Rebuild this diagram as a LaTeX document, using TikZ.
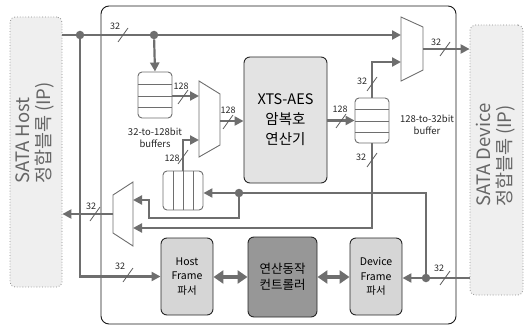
\documentclass[tikz,border=0pt]{standalone}
\usepackage{fontspec}
\setmainfont{Noto Sans CJK KR}
\usetikzlibrary{arrows.meta,calc}
\definecolor{ln}{HTML}{6E6E6E}
\definecolor{sidefill}{HTML}{EFEFEF}
\definecolor{xtsfill}{HTML}{E3E3E3}
\definecolor{frfill}{HTML}{D6D6D6}
\definecolor{ctfill}{HTML}{979797}
\newcommand\bslash[1]{\draw[slashmark] ($(#1)+(-5,7)$) -- ($(#1)+(5,-7)$);}
\begin{document}
\begin{tikzpicture}[x=1pt,y=-1pt,
  bus/.style={draw=ln,line width=2.2pt},
  arr/.style={bus,-{Triangle[length=9pt,width=9pt]}},
  darr/.style={draw=ln,line width=3.6pt,{Triangle[length=10pt,width=13pt]}-{Triangle[length=10pt,width=13pt]}},
  dotn/.style={circle,fill=ln,inner sep=0,minimum size=8.5pt},
  slashmark/.style={draw=ln!85!black,line width=0.8pt},
  lbl/.style={font=\fontsize{9}{10}\selectfont,text=black!85,inner sep=0},
  blk/.style={draw=black!85,line width=0.9pt,rounded corners=6pt,inner sep=0,align=center},
  side/.style={draw=black!45,dotted,line width=0.8pt,fill=sidefill,rounded corners=5pt,inner sep=0},
  sidetxt/.style={rotate=90,align=left,text=black!60,inner sep=0,font=\fontsize{18.5}{21}\selectfont},
  bufbox/.style={draw=ln,line width=0.9pt,fill=white,rounded corners=4pt,inner sep=0},
  stripe/.style={draw=ln,line width=0.8pt},
  muxs/.style={draw=ln,line width=0.9pt,fill=white}]
\useasboundingbox (0,0) rectangle (526,326);
% main frame
\draw[black!90,line width=0.9pt,rounded corners=8pt] (101,6) rectangle (456,324);
% side blocks
\node[side,minimum width=52,minimum height=270] (L) at (36,152) {};
\node[sidetxt] (Lt) at (35,133) {SATA Host\\정합블록 (IP)};
\node[side,minimum width=53,minimum height=270] (R) at (496.5,160) {};
\node[sidetxt] (Rt) at (496,155) {SATA Device\\정합블록 (IP)};
% blocks
\node[blk,fill=xtsfill,minimum width=83,minimum height=126,font=\fontsize{14.5}{20}\selectfont] (xts) at (285.5,120) {XTS-AES\\암복호\\연산기};
\node[blk,fill=frfill,minimum width=52,minimum height=77,font=\fontsize{10.5}{14.5}\selectfont] (hf) at (187,276.5) {Host\\Frame\\파서};
\node[blk,fill=ctfill,minimum width=69,minimum height=80,font=\fontsize{12.5}{16}\selectfont] (ctrl) at (282.5,277) {연산동작\\컨트롤러};
\node[blk,fill=frfill,minimum width=52,minimum height=77,font=\fontsize{10.5}{14.5}\selectfont] (df) at (376,276.5) {Device\\Frame\\파서};
% buffers
\node[bufbox,minimum width=34,minimum height=46] (buf1) at (155,95) {};
\draw[stripe] (138,84) -- (172,84) (138,96) -- (172,96) (138,107) -- (172,107);
\node[bufbox,minimum width=40,minimum height=39] (buf2) at (183,190.5) {};
\draw[stripe] (173,171) -- (173,210) (183,171) -- (183,210) (193,171) -- (193,210);
\node[bufbox,minimum width=34,minimum height=45] (buf3) at (372,120.5) {};
\draw[stripe] (355,109) -- (389,109) (355,121) -- (389,121) (355,132) -- (389,132);
\node[lbl,align=center,font=\fontsize{9.5}{12.5}\selectfont] (b1t) at (155,138) {32-to-128bit\\buffers};
\node[lbl,align=center,font=\fontsize{9.5}{12.5}\selectfont] (b3t) at (427,125) {128-to-32bit\\buffer};
% muxes
\draw[muxs] (199,81) -- (220,94) -- (220,145) -- (199,157) -- cycle;
\draw[muxs] (113,195) -- (133,182) -- (133,246) -- (113,233) -- cycle;
\draw[muxs] (401,17) -- (423,27) -- (423,70) -- (401,81) -- cycle;
\coordinate (m1a) at (199,96);
\coordinate (m1b) at (199,140);
\coordinate (m1o) at (220,121);
\coordinate (m2a) at (133,200);
\coordinate (m2b) at (133,228);
\coordinate (m2o) at (113,214);
\coordinate (m3a) at (401,35);
\coordinate (m3b) at (401,62);
\coordinate (m3o) at (423,49);
\coordinate (k1) at (239,218);
\coordinate (k2) at (149,218);
% dots
\node[dotn] (d1) at (80,35) {};
\node[dotn] (d2) at (154,35) {};
\node[dotn] (d3) at (239,193) {};
\node[dotn] (d4) at (426,278) {};
% connectors
\draw[bus] (L.east |- d1) -- (d1) -- (d2);
\draw[arr] (d2) -- (m3a);
\draw[arr] (d1) |- (hf.west);
\draw[arr] (d2) -- (buf1.north);
\draw[arr] (buf1.east |- m1a) -- (m1a);
\draw[arr] (m1o) -- (xts.west |- m1o);
\draw[arr] (buf2.north) |- (m1b);
\draw[arr] (d3) -- (buf2.east |- d3);
\draw[bus] (d4) |- (d3);
\draw[arr] (d3) -- (k1) -- (k2) |- (m2a);
\draw[arr] (buf3.south) |- (m2b);
\draw[arr] (buf3.north) |- (m3b);
\draw[arr] (xts.east |- buf3.west) -- (buf3.west);
\draw[arr] (m2o) -- (L.east |- m2o);
\draw[arr] (m3o) -- (R.west |- m3o);
\draw[bus] (R.west |- d4) -- (d4);
\draw[arr] (d4) -- (df.east |- d4);
\draw[darr] (hf.east |- ctrl.west) -- (ctrl.west);
\draw[darr] (ctrl.east) -- (df.west |- ctrl.east);
% bus width marks
\bslash{123,35} \node[lbl] (t1) at (115,26) {32};
\bslash{128,275} \node[lbl] (t2) at (120,266) {32};
\bslash{183,97} \node[lbl] (t3) at (181,86) {128};
\bslash{228,122} \node[lbl] (t4) at (228,110) {128};
\bslash{183,157} \node[lbl] (t5) at (172,158) {128};
\bslash{341,121} \node[lbl] (t6) at (340,109) {128};
\bslash{372,84} \node[lbl] (t7) at (362,81) {32};
\bslash{372,160} \node[lbl] (t8) at (361,157) {32};
\bslash{445,49} \node[lbl] (t9) at (436,42) {32};
\bslash{95,214} \node[lbl] (t10) at (91,206) {32};
\bslash{445,278} \node[lbl] (t11) at (439,268) {32};
\end{tikzpicture}
\end{document}
